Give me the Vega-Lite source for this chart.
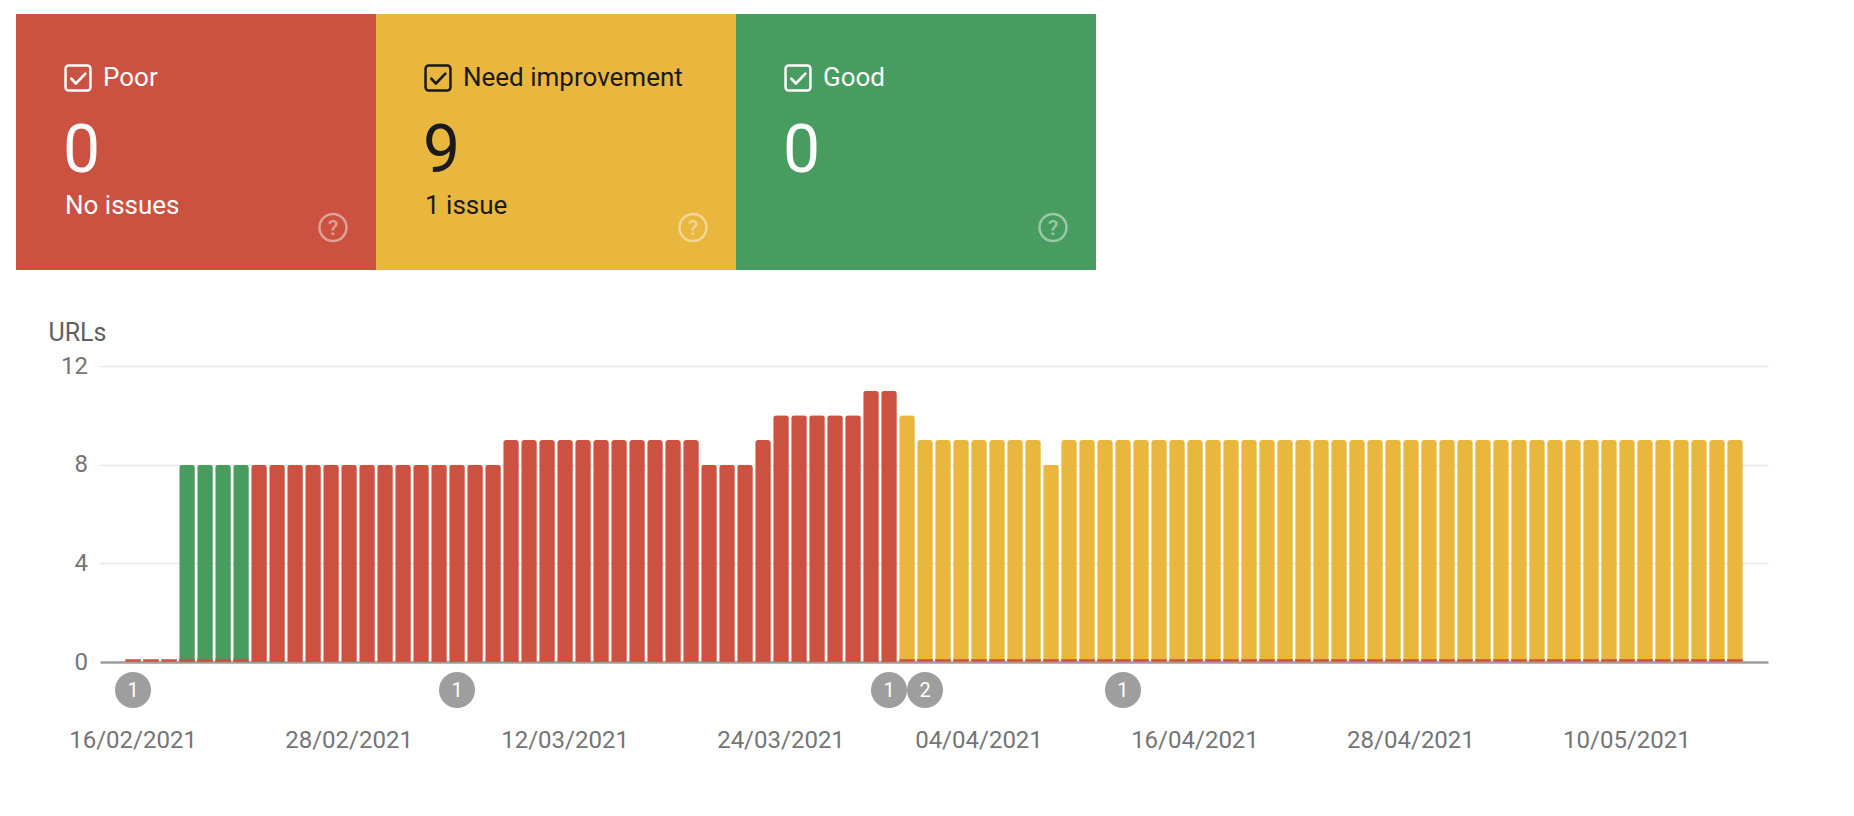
{
  "$schema": "https://vega.github.io/schema/vega-lite/v6.json",
  "background": "white",
  "padding": {"left": 16, "top": 14, "right": 16, "bottom": 14},
  "bounds": "flush",
  "spacing": 96,
  "config": {"font": "Roboto", "view": {"stroke": null}},
  "datasets": {
    "cards": [
      {"status": "Poor", "count": "0", "issues": "No issues"},
      {"status": "Need improvement", "count": "9", "issues": "1 issue"},
      {"status": "Good", "count": "0", "issues": ""}
    ],
    "events": [
      {"date": "2021-02-16", "n": "1"},
      {"date": "2021-03-06", "n": "1"},
      {"date": "2021-03-30", "n": "1"},
      {"date": "2021-04-01", "n": "2"},
      {"date": "2021-04-12", "n": "1"}
    ],
    "urls": [
      {"date": "2021-02-16", "status": "Poor", "urls": 0},
      {"date": "2021-02-17", "status": "Poor", "urls": 0},
      {"date": "2021-02-18", "status": "Poor", "urls": 0},
      {"date": "2021-02-19", "status": "Good", "urls": 8},
      {"date": "2021-02-20", "status": "Good", "urls": 8},
      {"date": "2021-02-21", "status": "Good", "urls": 8},
      {"date": "2021-02-22", "status": "Good", "urls": 8},
      {"date": "2021-02-23", "status": "Poor", "urls": 8},
      {"date": "2021-02-24", "status": "Poor", "urls": 8},
      {"date": "2021-02-25", "status": "Poor", "urls": 8},
      {"date": "2021-02-26", "status": "Poor", "urls": 8},
      {"date": "2021-02-27", "status": "Poor", "urls": 8},
      {"date": "2021-02-28", "status": "Poor", "urls": 8},
      {"date": "2021-03-01", "status": "Poor", "urls": 8},
      {"date": "2021-03-02", "status": "Poor", "urls": 8},
      {"date": "2021-03-03", "status": "Poor", "urls": 8},
      {"date": "2021-03-04", "status": "Poor", "urls": 8},
      {"date": "2021-03-05", "status": "Poor", "urls": 8},
      {"date": "2021-03-06", "status": "Poor", "urls": 8},
      {"date": "2021-03-07", "status": "Poor", "urls": 8},
      {"date": "2021-03-08", "status": "Poor", "urls": 8},
      {"date": "2021-03-09", "status": "Poor", "urls": 9},
      {"date": "2021-03-10", "status": "Poor", "urls": 9},
      {"date": "2021-03-11", "status": "Poor", "urls": 9},
      {"date": "2021-03-12", "status": "Poor", "urls": 9},
      {"date": "2021-03-13", "status": "Poor", "urls": 9},
      {"date": "2021-03-14", "status": "Poor", "urls": 9},
      {"date": "2021-03-15", "status": "Poor", "urls": 9},
      {"date": "2021-03-16", "status": "Poor", "urls": 9},
      {"date": "2021-03-17", "status": "Poor", "urls": 9},
      {"date": "2021-03-18", "status": "Poor", "urls": 9},
      {"date": "2021-03-19", "status": "Poor", "urls": 9},
      {"date": "2021-03-20", "status": "Poor", "urls": 8},
      {"date": "2021-03-21", "status": "Poor", "urls": 8},
      {"date": "2021-03-22", "status": "Poor", "urls": 8},
      {"date": "2021-03-23", "status": "Poor", "urls": 9},
      {"date": "2021-03-24", "status": "Poor", "urls": 10},
      {"date": "2021-03-25", "status": "Poor", "urls": 10},
      {"date": "2021-03-26", "status": "Poor", "urls": 10},
      {"date": "2021-03-27", "status": "Poor", "urls": 10},
      {"date": "2021-03-28", "status": "Poor", "urls": 10},
      {"date": "2021-03-29", "status": "Poor", "urls": 11},
      {"date": "2021-03-30", "status": "Poor", "urls": 11},
      {"date": "2021-03-31", "status": "Need improvement", "urls": 10},
      {"date": "2021-04-01", "status": "Need improvement", "urls": 9},
      {"date": "2021-04-02", "status": "Need improvement", "urls": 9},
      {"date": "2021-04-03", "status": "Need improvement", "urls": 9},
      {"date": "2021-04-04", "status": "Need improvement", "urls": 9},
      {"date": "2021-04-05", "status": "Need improvement", "urls": 9},
      {"date": "2021-04-06", "status": "Need improvement", "urls": 9},
      {"date": "2021-04-07", "status": "Need improvement", "urls": 9},
      {"date": "2021-04-08", "status": "Need improvement", "urls": 8},
      {"date": "2021-04-09", "status": "Need improvement", "urls": 9},
      {"date": "2021-04-10", "status": "Need improvement", "urls": 9},
      {"date": "2021-04-11", "status": "Need improvement", "urls": 9},
      {"date": "2021-04-12", "status": "Need improvement", "urls": 9},
      {"date": "2021-04-13", "status": "Need improvement", "urls": 9},
      {"date": "2021-04-14", "status": "Need improvement", "urls": 9},
      {"date": "2021-04-15", "status": "Need improvement", "urls": 9},
      {"date": "2021-04-16", "status": "Need improvement", "urls": 9},
      {"date": "2021-04-17", "status": "Need improvement", "urls": 9},
      {"date": "2021-04-18", "status": "Need improvement", "urls": 9},
      {"date": "2021-04-19", "status": "Need improvement", "urls": 9},
      {"date": "2021-04-20", "status": "Need improvement", "urls": 9},
      {"date": "2021-04-21", "status": "Need improvement", "urls": 9},
      {"date": "2021-04-22", "status": "Need improvement", "urls": 9},
      {"date": "2021-04-23", "status": "Need improvement", "urls": 9},
      {"date": "2021-04-24", "status": "Need improvement", "urls": 9},
      {"date": "2021-04-25", "status": "Need improvement", "urls": 9},
      {"date": "2021-04-26", "status": "Need improvement", "urls": 9},
      {"date": "2021-04-27", "status": "Need improvement", "urls": 9},
      {"date": "2021-04-28", "status": "Need improvement", "urls": 9},
      {"date": "2021-04-29", "status": "Need improvement", "urls": 9},
      {"date": "2021-04-30", "status": "Need improvement", "urls": 9},
      {"date": "2021-05-01", "status": "Need improvement", "urls": 9},
      {"date": "2021-05-02", "status": "Need improvement", "urls": 9},
      {"date": "2021-05-03", "status": "Need improvement", "urls": 9},
      {"date": "2021-05-04", "status": "Need improvement", "urls": 9},
      {"date": "2021-05-05", "status": "Need improvement", "urls": 9},
      {"date": "2021-05-06", "status": "Need improvement", "urls": 9},
      {"date": "2021-05-07", "status": "Need improvement", "urls": 9},
      {"date": "2021-05-08", "status": "Need improvement", "urls": 9},
      {"date": "2021-05-09", "status": "Need improvement", "urls": 9},
      {"date": "2021-05-10", "status": "Need improvement", "urls": 9},
      {"date": "2021-05-11", "status": "Need improvement", "urls": 9},
      {"date": "2021-05-12", "status": "Need improvement", "urls": 9},
      {"date": "2021-05-13", "status": "Need improvement", "urls": 9},
      {"date": "2021-05-14", "status": "Need improvement", "urls": 9},
      {"date": "2021-05-15", "status": "Need improvement", "urls": 9},
      {"date": "2021-05-16", "status": "Need improvement", "urls": 9}
    ]
  },
  "vconcat": [
    {
      "width": 1080,
      "height": 256,
      "data": {"name": "cards"},
      "layer": [
        {
          "mark": {"type": "rect", "xOffset": -84},
          "encoding": {
            "x": {"field": "status", "type": "nominal", "sort": null, "axis": null,
                  "scale": {"type": "band", "domain": ["Poor", "Need improvement", "Good"], "paddingInner": 0, "paddingOuter": 0}},
            "color": {"field": "status", "type": "nominal", "legend": null,
                      "scale": {"domain": ["Poor", "Need improvement", "Good"], "range": ["#CB5141", "#E9B73E", "#489C5F"]}}
          }
        },
        {
          "mark": {"type": "point", "shape": "M-0.75,-1 L0.75,-1 A0.25,0.25 0 0 1 1,-0.75 L1,0.75 A0.25,0.25 0 0 1 0.75,1 L-0.75,1 A0.25,0.25 0 0 1 -1,0.75 L-1,-0.75 A0.25,0.25 0 0 1 -0.75,-1 Z",
                   "filled": false, "size": 620, "strokeWidth": 2.5, "opacity": 1, "xOffset": -22},
          "encoding": {
            "x": {"field": "status", "type": "nominal", "sort": null, "axis": null, "bandPosition": 0,
                  "scale": {"type": "band", "domain": ["Poor", "Need improvement", "Good"], "paddingInner": 0, "paddingOuter": 0}},
            "y": {"datum": "head", "type": "ordinal", "axis": null,
                  "scale": {"type": "point", "domain": ["head", "count", "issues"], "padding": 1}},
            "color": {"condition": {"test": "datum.status === 'Need improvement'", "value": "#1a1a1a"}, "value": "white"}
          }
        },
        {
          "mark": {"type": "point", "shape": "M-0.55,0.05 L-0.17,0.45 L0.6,-0.35",
                   "filled": false, "size": 600, "strokeWidth": 2.6, "strokeCap": "round", "strokeJoin": "round", "opacity": 1, "xOffset": -22},
          "encoding": {
            "x": {"field": "status", "type": "nominal", "sort": null, "axis": null, "bandPosition": 0,
                  "scale": {"type": "band", "domain": ["Poor", "Need improvement", "Good"], "paddingInner": 0, "paddingOuter": 0}},
            "y": {"datum": "head", "type": "ordinal", "axis": null,
                  "scale": {"type": "point", "domain": ["head", "count", "issues"], "padding": 1}},
            "color": {"condition": {"test": "datum.status === 'Need improvement'", "value": "#1a1a1a"}, "value": "white"}
          }
        },
        {
          "mark": {"type": "text", "align": "left", "baseline": "middle", "fontSize": 26, "xOffset": 3},
          "encoding": {
            "x": {"field": "status", "type": "nominal", "sort": null, "axis": null, "bandPosition": 0,
                  "scale": {"type": "band", "domain": ["Poor", "Need improvement", "Good"], "paddingInner": 0, "paddingOuter": 0}},
            "y": {"datum": "head", "type": "ordinal", "axis": null,
                  "scale": {"type": "point", "domain": ["head", "count", "issues"], "padding": 1}},
            "text": {"field": "status"},
            "color": {"condition": {"test": "datum.status === 'Need improvement'", "value": "#1a1a1a"}, "value": "white"}
          }
        },
        {
          "mark": {"type": "text", "align": "left", "baseline": "middle", "fontSize": 66, "xOffset": -37, "dy": 9.5},
          "encoding": {
            "x": {"field": "status", "type": "nominal", "sort": null, "axis": null, "bandPosition": 0,
                  "scale": {"type": "band", "domain": ["Poor", "Need improvement", "Good"], "paddingInner": 0, "paddingOuter": 0}},
            "y": {"datum": "count", "type": "ordinal", "axis": null,
                  "scale": {"type": "point", "domain": ["head", "count", "issues"], "padding": 1}},
            "text": {"field": "count"},
            "color": {"condition": {"test": "datum.status === 'Need improvement'", "value": "#1a1a1a"}, "value": "white"}
          }
        },
        {
          "mark": {"type": "text", "align": "left", "baseline": "middle", "fontSize": 26, "xOffset": -35},
          "encoding": {
            "x": {"field": "status", "type": "nominal", "sort": null, "axis": null, "bandPosition": 0,
                  "scale": {"type": "band", "domain": ["Poor", "Need improvement", "Good"], "paddingInner": 0, "paddingOuter": 0}},
            "y": {"datum": "issues", "type": "ordinal", "axis": null,
                  "scale": {"type": "point", "domain": ["head", "count", "issues"], "padding": 1}},
            "text": {"field": "issues"},
            "color": {"condition": {"test": "datum.status === 'Need improvement'", "value": "#1a1a1a"}, "value": "white"}
          }
        },
        {
          "mark": {"type": "point", "shape": "circle", "filled": false, "size": 729, "strokeWidth": 2.5, "opacity": 0.45,
                   "color": "white", "xOffset": 233, "yOffset": 21.5},
          "encoding": {
            "x": {"field": "status", "type": "nominal", "sort": null, "axis": null, "bandPosition": 0,
                  "scale": {"type": "band", "domain": ["Poor", "Need improvement", "Good"], "paddingInner": 0, "paddingOuter": 0}},
            "y": {"datum": "issues", "type": "ordinal", "axis": null,
                  "scale": {"type": "point", "domain": ["head", "count", "issues"], "padding": 1}}
          }
        },
        {
          "mark": {"type": "text", "text": "?", "align": "center", "baseline": "middle", "fontSize": 21, "fontWeight": 500,
                   "opacity": 0.45, "color": "white", "xOffset": 233, "yOffset": 21.5, "dy": 1},
          "encoding": {
            "x": {"field": "status", "type": "nominal", "sort": null, "axis": null, "bandPosition": 0,
                  "scale": {"type": "band", "domain": ["Poor", "Need improvement", "Good"], "paddingInner": 0, "paddingOuter": 0}},
            "y": {"datum": "issues", "type": "ordinal", "axis": null,
                  "scale": {"type": "point", "domain": ["head", "count", "issues"], "padding": 1}}
          }
        }
      ]
    },
    {
      "width": 1668,
      "height": 296,
      "encoding": {
        "x": {"field": "date", "type": "ordinal",
              "scale": {"type": "band", "paddingInner": 0.13, "paddingOuter": 0.4, "align": 0.5,
                        "domain": ["2021-02-15",
                          "2021-02-16", "2021-02-17", "2021-02-18", "2021-02-19", "2021-02-20", "2021-02-21", "2021-02-22", "2021-02-23", "2021-02-24", "2021-02-25", "2021-02-26", "2021-02-27", "2021-02-28",
                          "2021-03-01", "2021-03-02", "2021-03-03", "2021-03-04", "2021-03-05", "2021-03-06", "2021-03-07", "2021-03-08", "2021-03-09", "2021-03-10", "2021-03-11", "2021-03-12", "2021-03-13", "2021-03-14", "2021-03-15", "2021-03-16", "2021-03-17", "2021-03-18", "2021-03-19", "2021-03-20", "2021-03-21", "2021-03-22", "2021-03-23", "2021-03-24", "2021-03-25", "2021-03-26", "2021-03-27", "2021-03-28", "2021-03-29", "2021-03-30", "2021-03-31",
                          "2021-04-01", "2021-04-02", "2021-04-03", "2021-04-04", "2021-04-05", "2021-04-06", "2021-04-07", "2021-04-08", "2021-04-09", "2021-04-10", "2021-04-11", "2021-04-12", "2021-04-13", "2021-04-14", "2021-04-15", "2021-04-16", "2021-04-17", "2021-04-18", "2021-04-19", "2021-04-20", "2021-04-21", "2021-04-22", "2021-04-23", "2021-04-24", "2021-04-25", "2021-04-26", "2021-04-27", "2021-04-28", "2021-04-29", "2021-04-30",
                          "2021-05-01", "2021-05-02", "2021-05-03", "2021-05-04", "2021-05-05", "2021-05-06", "2021-05-07", "2021-05-08", "2021-05-09", "2021-05-10", "2021-05-11", "2021-05-12", "2021-05-13", "2021-05-14", "2021-05-15", "2021-05-16",
                          "2021-05-17"]},
              "axis": {"values": ["2021-02-16", "2021-02-28", "2021-03-12", "2021-03-24", "2021-04-04", "2021-04-16", "2021-04-28", "2021-05-10"],
                       "labelExpr": "utcFormat(toDate(datum.value), '%d/%m/%Y')",
                       "labelAngle": 0, "labelFontSize": 24, "labelColor": "#757575", "labelPadding": 85, "labelBaseline": "alphabetic",
                       "labelOverlap": false, "labelFlush": false,
                       "ticks": false, "tickSize": 0, "domain": true, "domainColor": "#9e9e9e", "domainWidth": 2.5,
                       "grid": false, "title": null}}
      },
      "layer": [
        {
          "data": {"name": "urls"},
          "mark": {"type": "bar", "cornerRadiusTopLeft": 3, "cornerRadiusTopRight": 3},
          "encoding": {
            "y": {"field": "urls", "type": "quantitative",
                  "scale": {"domain": [0, 12], "nice": false},
                  "axis": {"values": [0, 4, 8, 12], "title": "URLs", "titleAngle": 0, "titleAlign": "left", "titleBaseline": "alphabetic",
                           "titleX": -52, "titleY": -26, "titleFontSize": 25, "titleFontWeight": "normal", "titleColor": "#616161",
                           "labelFontSize": 24, "labelColor": "#757575", "labelPadding": 12.6,
                           "ticks": false, "tickSize": 0, "domain": false,
                           "grid": true, "gridColor": "#e8e8e8", "gridWidth": 1.5}},
            "color": {"field": "status", "type": "nominal", "legend": null,
                      "scale": {"domain": ["Poor", "Need improvement", "Good"], "range": ["#CB5141", "#E9B73E", "#489C5F"]}}
          }
        },
        {
          "data": {"name": "urls"},
          "transform": [{"filter": "datum.status !== 'Poor' || datum.urls === 0"}],
          "mark": {"type": "tick", "orient": "horizontal", "thickness": 2.5, "size": 15.6, "color": "#CB5141", "opacity": 1, "yOffset": -1.5},
          "encoding": {
            "y": {"datum": 0, "type": "quantitative"}
          }
        },
        {
          "data": {"name": "events"},
          "mark": {"type": "point", "shape": "circle", "filled": true, "size": 1300, "color": "#9e9e9e", "opacity": 1, "yOffset": 28},
          "encoding": {
            "y": {"datum": 0, "type": "quantitative"}
          }
        },
        {
          "data": {"name": "events"},
          "mark": {"type": "text", "align": "center", "baseline": "middle", "fontSize": 20, "color": "white", "yOffset": 28, "dy": 1},
          "encoding": {
            "y": {"datum": 0, "type": "quantitative"},
            "text": {"field": "n"}
          }
        }
      ]
    }
  ]
}
